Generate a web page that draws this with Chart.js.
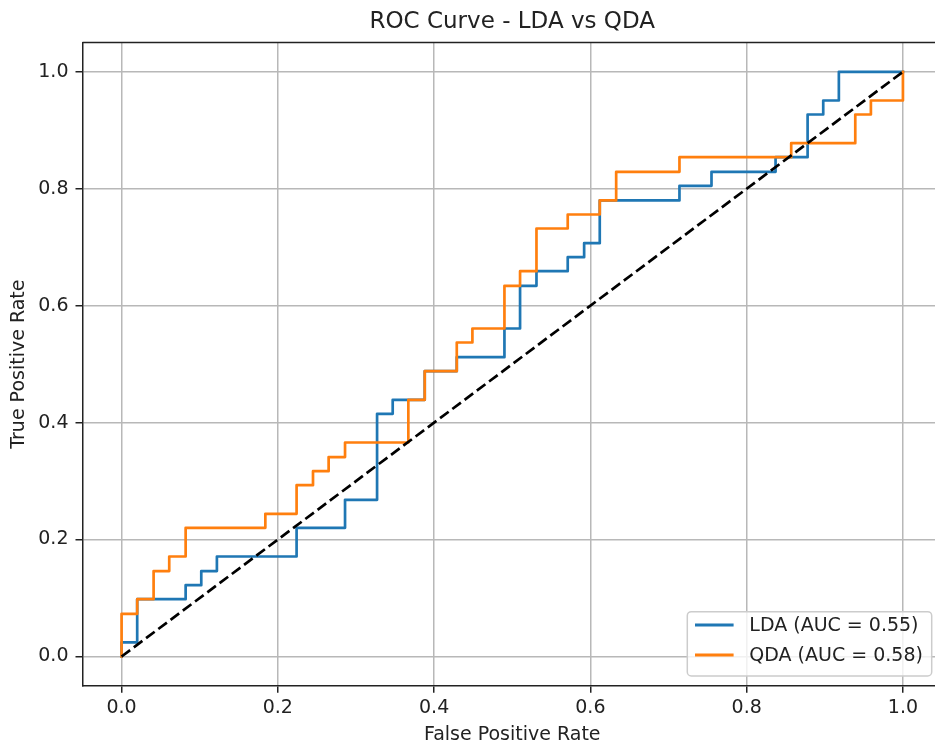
<!DOCTYPE html>
<html><head><meta charset="utf-8">
<script src="https://cdn.jsdelivr.net/npm/chart.js@4.4.1/dist/chart.umd.min.js"></script>
<style>
html,body{margin:0;padding:0;overflow:hidden;background:#fff;width:935px;height:744px}
#wrap{width:960px;height:744px}
canvas{display:block}
</style>
</head><body>
<div id="wrap"><canvas id="c" width="960" height="744"></canvas></div>
<script>
// ---- text ----
const titleText = 'ROC Curve - LDA vs QDA';
const xAxisLabel = 'False Positive Rate';
const yAxisLabel = 'True Positive Rate';
const seriesLabels = ['LDA (AUC = 0.55)', 'QDA (AUC = 0.58)'];

// ---- ticks ----
const xTicks = [0.0, 0.2, 0.4, 0.6, 0.8, 1.0];
const xTickLabels = ['0.0', '0.2', '0.4', '0.6', '0.8', '1.0'];
const yTicks = [0.0, 0.2, 0.4, 0.6, 0.8, 1.0];
const yTickLabels = ['0.0', '0.2', '0.4', '0.6', '0.8', '1.0'];

// ---- LDA ROC points ----
const ldaFpr = [0,0,0.020,0.020,0.082,0.082,0.102,0.102,0.122,0.122,0.224,0.224,0.286,0.286,0.327,0.327,0.347,0.347,0.367,0.388,0.388,0.429,0.429,0.490,0.490,0.510,0.510,0.531,0.531,0.571,0.571,0.592,0.592,0.612,0.612,0.714,0.714,0.755,0.755,0.837,0.837,0.878,0.878,0.898,0.898,0.918,0.918,1.0];
const ldaTpr = [0,0.024,0.024,0.098,0.098,0.122,0.122,0.146,0.146,0.171,0.171,0.220,0.220,0.268,0.268,0.415,0.415,0.439,0.439,0.439,0.488,0.488,0.512,0.512,0.561,0.561,0.634,0.634,0.659,0.659,0.683,0.683,0.707,0.707,0.780,0.780,0.805,0.805,0.829,0.829,0.854,0.854,0.927,0.927,0.951,0.951,1.0,1.0];

// ---- QDA ROC points ----
const qdaFpr = [0,0,0.020,0.020,0.041,0.041,0.061,0.061,0.082,0.082,0.184,0.184,0.224,0.224,0.245,0.245,0.265,0.265,0.286,0.286,0.367,0.367,0.388,0.388,0.429,0.429,0.449,0.449,0.490,0.490,0.510,0.510,0.531,0.531,0.571,0.571,0.612,0.612,0.633,0.633,0.714,0.714,0.857,0.857,0.939,0.939,0.959,0.959,1.0,1.0];
const qdaTpr = [0,0.073,0.073,0.098,0.098,0.146,0.146,0.171,0.171,0.220,0.220,0.244,0.244,0.293,0.293,0.317,0.317,0.341,0.341,0.366,0.366,0.439,0.439,0.488,0.488,0.537,0.537,0.561,0.561,0.634,0.634,0.659,0.659,0.732,0.732,0.756,0.756,0.780,0.780,0.829,0.829,0.854,0.854,0.878,0.878,0.927,0.927,0.951,0.951,1.0];

// ---- chance diagonal ----
const diagX = [0, 1];
const diagY = [0, 1];

const colors = ['#1f77b4', '#ff7f0e'];
const textColor = '#222';
const FONT = "'DejaVu Sans', sans-serif";
Chart.defaults.font.family = FONT;

function pts(xs, ys) { return xs.map((x, i) => ({x: x, y: ys[i]})); }

const frameAndLegend = {
  id: 'frameAndLegend',
  afterDatasetsDraw(chart) {
    const {ctx, chartArea: a} = chart;
    ctx.save();
    ctx.strokeStyle = textColor;
    ctx.lineWidth = 1.5;
    ctx.beginPath();
    ctx.moveTo(a.left, a.top);
    ctx.lineTo(a.right, a.top);
    ctx.lineTo(a.right, a.bottom);
    ctx.stroke();
    ctx.restore();
  },
  afterDraw(chart) {
    const {ctx, chartArea: a} = chart;
    const w = 244.4, h = 64.3;
    const right = a.right - 10.3, bottom = a.bottom - 9.7;
    const left = right - w, top = bottom - h;
    ctx.save();
    ctx.beginPath();
    ctx.roundRect(left, top, w, h, 4);
    ctx.fillStyle = 'rgba(255,255,255,0.8)';
    ctx.fill();
    ctx.strokeStyle = '#cccccc';
    ctx.lineWidth = 1.5;
    ctx.stroke();
    const rows = [top + 13.3, top + 43.3];
    chart.data.datasets.slice(0, 2).forEach((ds, i) => {
      ctx.beginPath();
      ctx.strokeStyle = ds.borderColor;
      ctx.lineWidth = 2.9;
      ctx.moveTo(left + 7.7, rows[i]);
      ctx.lineTo(left + 46.3, rows[i]);
      ctx.stroke();
      ctx.fillStyle = textColor;
      ctx.font = '19px ' + FONT;
      ctx.textBaseline = 'middle';
      ctx.textAlign = 'left';
      ctx.fillText(ds.label, left + 62, rows[i] + 1);
    });
    ctx.restore();
  }
};

new Chart(document.getElementById('c'), {
  type: 'scatter',
  data: {
    datasets: [
      {label: seriesLabels[0], data: pts(ldaFpr, ldaTpr), borderColor: colors[0], backgroundColor: colors[0],
       borderWidth: 2.7, showLine: true, pointRadius: 0, fill: false, tension: 0, order: 2,
       borderJoinStyle: 'round', borderCapStyle: 'square'},
      {label: seriesLabels[1], data: pts(qdaFpr, qdaTpr), borderColor: colors[1], backgroundColor: colors[1],
       borderWidth: 2.7, showLine: true, pointRadius: 0, fill: false, tension: 0, order: 1,
       borderJoinStyle: 'round', borderCapStyle: 'square'},
      {label: 'chance', data: pts(diagX, diagY), borderColor: '#000', backgroundColor: '#000',
       borderWidth: 2.7, borderDash: [10.7, 4.6], showLine: true, pointRadius: 0, fill: false, order: 0,
       borderCapStyle: 'butt'}
    ]
  },
  options: {
    responsive: false,
    animation: false,
    devicePixelRatio: 1,
    layout: {padding: {left: 0, right: 18, top: 0, bottom: 0}},
    plugins: {
      legend: {display: false},
      tooltip: {enabled: false},
      title: {display: true, text: titleText, color: textColor, fullSize: false,
              font: {size: 23, weight: 'normal', lineHeight: 1.2}, padding: {top: 8, bottom: 7}}
    },
    scales: {
      x: {
        type: 'linear', position: 'bottom', min: -0.05, max: 1.05,
        afterBuildTicks: s => { s.ticks = xTicks.map(v => ({value: v})); },
        afterFit: s => { s.height = 58.3; },
        ticks: {callback: (v, i) => xTickLabels[i], color: textColor, font: {size: 19}, padding: 4,
                maxRotation: 0, autoSkip: false},
        grid: {color: '#b8b8b8', lineWidth: 1.5, tickColor: textColor, tickLength: 7, tickWidth: 1.5},
        border: {color: textColor, width: 1.5},
        title: {display: true, text: xAxisLabel, color: textColor, font: {size: 19, lineHeight: 1},
                padding: {top: 0, bottom: -1}}
      },
      y: {
        type: 'linear', position: 'left', min: -0.05, max: 1.05,
        afterBuildTicks: s => { s.ticks = yTicks.map(v => ({value: v})); },
        afterFit: s => { s.width = 82.5; },
        ticks: {callback: (v, i) => yTickLabels[i], color: textColor, font: {size: 19}, padding: 7,
                autoSkip: false},
        grid: {color: '#b8b8b8', lineWidth: 1.5, tickColor: textColor, tickLength: 7, tickWidth: 1.5},
        border: {color: textColor, width: 1.5},
        title: {display: true, text: yAxisLabel, color: textColor, font: {size: 19, lineHeight: 1},
                padding: {top: 10, bottom: 0}}
      }
    }
  },
  plugins: [frameAndLegend]
});
</script>
</body></html>
